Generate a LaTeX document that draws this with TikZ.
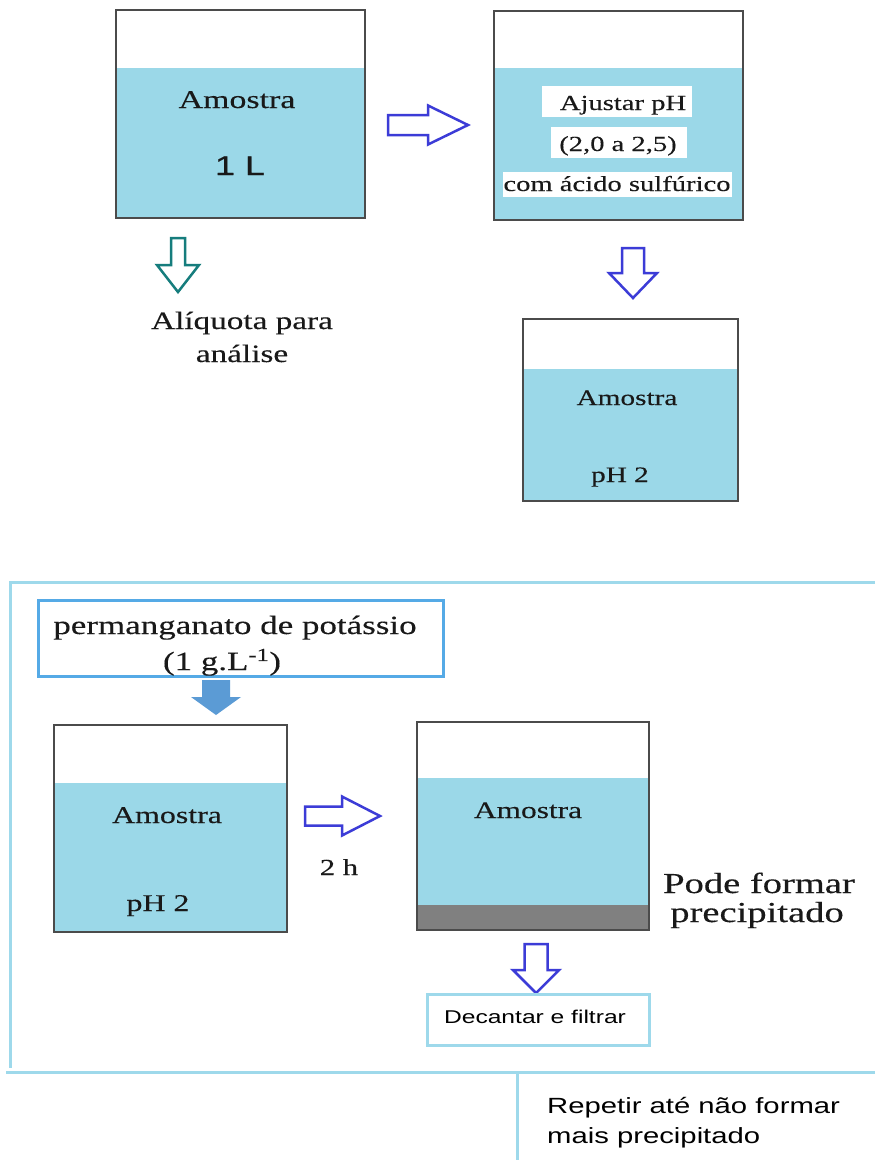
\documentclass[tikz,border=0pt]{standalone}
\usepackage{fontspec}
\setmainfont{Liberation Serif}[FakeStretch=1.33,FakeBold=0.25]
\setsansfont{Liberation Sans}[FakeStretch=1.33]
\newfontfamily\boldishsans{Liberation Sans}[FakeStretch=1.33,FakeBold=0.6]
\definecolor{water}{RGB}{155,216,232}
\definecolor{beakerline}{RGB}{75,75,75}
\definecolor{arrowblue}{RGB}{60,60,215}
\definecolor{tealarrow}{RGB}{22,125,125}
\definecolor{framecol}{RGB}{158,217,235}
\definecolor{boxblue}{RGB}{85,170,230}
\definecolor{fillarrow}{RGB}{91,155,213}
\definecolor{precip}{RGB}{128,128,128}
\definecolor{txt}{RGB}{25,25,25}
\newcommand{\rightblock}[7]{%
  \draw[#7] (#1,#4-#5) -- (#2,#4-#5) -- (#2,#4-#6) -- (#3,#4) -- (#2,#4+#6) -- (#2,#4+#5) -- (#1,#4+#5) -- cycle;}
\newcommand{\downblock}[7]{%
  \draw[#7] (#1-#5,#2) -- (#1+#5,#2) -- (#1+#5,#3) -- (#1+#6,#3) -- (#1,#4) -- (#1-#6,#3) -- (#1-#5,#3) -- cycle;}
\tikzset{
  beakerbox/.style={draw=beakerline, line width=2pt, inner sep=0pt},
  outarrow/.style={draw=arrowblue, line width=2.5pt, fill=white, line join=miter},
  tealout/.style={draw=tealarrow, line width=2.5pt, fill=white, line join=miter},
  solidarrow/.style={fill=fillarrow, draw=none},
  frameline/.style={draw=framecol, line width=3pt},
  lbl/.style={anchor=base, inner sep=0pt, text=txt},
  whitebox/.style={fill=white, draw=none, inner sep=0pt},
}
\begin{document}
\begin{tikzpicture}[x=1pt,y=-1pt]
\useasboundingbox (0,0) rectangle (875,1160);
\fill[white] (0,0) rectangle (875,1160);

% ---------- top-left beaker
\fill[water] (116,68) rectangle (365,218);
\node[beakerbox, minimum width=249pt, minimum height=208pt] (b1) at (240.5,114) {};
\node[lbl, font=\fontsize{25.5}{30}\selectfont] (b1t1) at (237,108) {Amostra};
\node[lbl, font=\boldishsans\fontsize{27}{32}\selectfont] (b1t2) at (240,175) {1 L};

% arrow right
\rightblock{388}{428}{468}{125}{10}{19.5}{outarrow}

% teal down arrow
\downblock{178}{238}{265}{292}{7}{21}{tealout}
\node[lbl, font=\fontsize{25}{30}\selectfont] (aliq1) at (242,329) {Alíquota para};
\node[lbl, font=\fontsize{25}{30}\selectfont] (aliq2) at (242,362) {análise};

% ---------- top-right beaker
\fill[water] (494,68) rectangle (743,220);
\node[beakerbox, minimum width=249pt, minimum height=209pt] (b2) at (618.5,115.5) {};
\node[whitebox, minimum width=150pt, minimum height=31pt] (w1) at (617,101.5) {};
\node[whitebox, minimum width=136pt, minimum height=31pt] (w2) at (619,142.5) {};
\node[whitebox, minimum width=229pt, minimum height=25pt] (w3) at (617.5,184.5) {};
\node[lbl, font=\fontsize{21.5}{26}\selectfont] (b2t1) at (623,110) {Ajustar pH};
\node[lbl, font=\fontsize{21.5}{26}\selectfont] (b2t2) at (618,151) {(2,0 a 2,5)};
\node[lbl, font=\fontsize{21.5}{26}\selectfont] (b2t3) at (617,191) {com ácido sulfúrico};

% down arrow to third beaker
\downblock{633}{248}{273}{298}{11}{24}{outarrow}

% ---------- third beaker
\fill[water] (523,369) rectangle (738,501);
\node[beakerbox, minimum width=215pt, minimum height=182pt] (b3) at (630.5,410) {};
\node[lbl, font=\fontsize{22}{26}\selectfont] (b3t1) at (627,405) {Amostra};
\node[lbl, font=\fontsize{22}{26}\selectfont] (b3t2) at (620,482) {pH 2};

% ---------- bottom frame
\coordinate (fTL) at (10,582);
\coordinate (fTR) at (875,582);
\coordinate (fLB) at (10,1068);
\coordinate (fBL) at (6,1072);
\coordinate (fBR) at (875,1072);
\coordinate (fV1) at (517,1072);
\coordinate (fV2) at (517,1160);
\draw[frameline] (fTR) -- (fTL) -- (fLB);
\draw[frameline] (fBL) -- (fBR);
\draw[frameline] (fV1) -- (fV2);

% permanganato box
\node[draw=boxblue, line width=3pt, minimum width=405pt, minimum height=76pt, inner sep=0pt] (perm) at (240.5,638) {};
\node[lbl, font=\fontsize{26.3}{30}\selectfont] (perm1) at (235,634) {permanganato de potássio};
\node[lbl, font=\fontsize{26.3}{30}\selectfont] (perm2) at (222,670) {(1 g.L\textsuperscript{-1})};

% solid arrow
\downblock{216}{680}{697}{715}{14}{25}{solidarrow}

% ---------- bottom-left beaker
\fill[water] (54,783) rectangle (287,932);
\node[beakerbox, minimum width=233pt, minimum height=207pt] (b4) at (170.5,828.5) {};
\node[lbl, font=\fontsize{24}{28}\selectfont] (b4t1) at (167,823) {Amostra};
\node[lbl, font=\fontsize{24}{28}\selectfont] (b4t2) at (158,911) {pH 2};

% arrow right + 2 h
\rightblock{305}{342}{380}{816}{9.5}{19.5}{outarrow}
\node[lbl, font=\fontsize{23}{28}\selectfont] (twoh) at (339,875) {2 h};

% ---------- bottom-right beaker
\fill[water] (417,778) rectangle (649,905);
\fill[precip] (417,905) rectangle (649,930);
\node[beakerbox, minimum width=232pt, minimum height=208pt] (b5) at (533,826) {};
\node[lbl, font=\fontsize{23.6}{28}\selectfont] (b5t1) at (528,818) {Amostra};
\node[lbl, font=\fontsize{29}{34}\selectfont] (pode1) at (759,893) {Pode formar};
\node[lbl, font=\fontsize{29}{34}\selectfont] (pode2) at (757,922) {precipitado};

% down arrow to decantar
\downblock{536}{944}{970}{993}{11.5}{23}{outarrow}
\node[draw=framecol, line width=3pt, minimum width=222pt, minimum height=51pt, inner sep=0pt] (dec) at (538,1019.5) {};
\node[lbl, font=\sffamily\fontsize{18.5}{22}\selectfont, text=black] (dect) at (535,1023) {Decantar e filtrar};

% repetir
\node[lbl, anchor=base west, font=\sffamily\fontsize{22}{26}\selectfont, text=black] (rep1) at (547,1113) {Repetir até não formar};
\node[lbl, anchor=base west, font=\sffamily\fontsize{22}{26}\selectfont, text=black] (rep2) at (547,1143) {mais precipitado};
\end{tikzpicture}
\end{document}
